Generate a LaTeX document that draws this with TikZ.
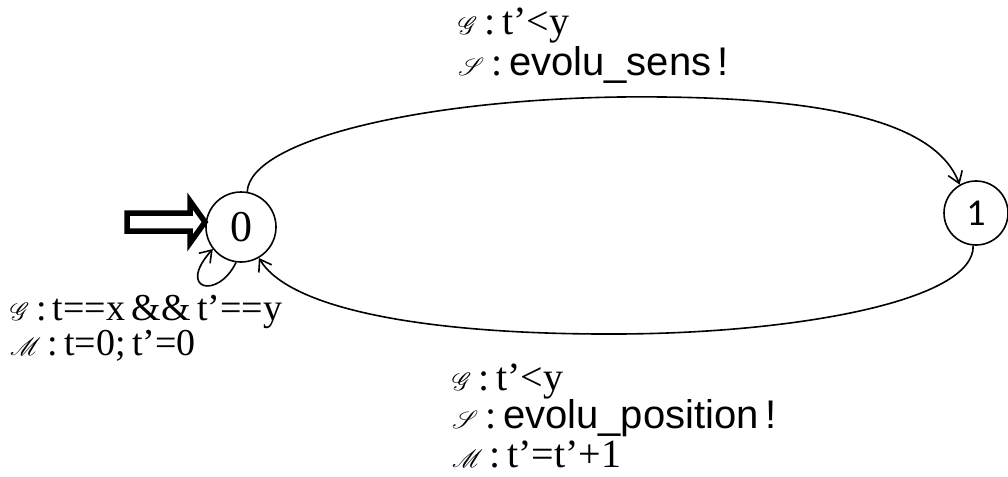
\documentclass[tikz,border=0pt]{standalone}
\usepackage{fontspec}
\usepackage{mathrsfs}
\setmainfont{Liberation Serif}
\newfontfamily\arialf{Liberation Sans}
\newfontfamily\calif{Carlito}
\usetikzlibrary{arrows.meta}
\newcommand{\scl}[1]{{\fontsize{26}{26}\selectfont$\mathscr{#1}$}}
\newcommand{\stackl}[2]{\vtop{\baselineskip=#1\lineskiplimit=-100pt\lineskip=0pt #2}}
\begin{document}
\begin{tikzpicture}[x=1pt,y=-1pt,
  state/.style={draw,circle,line width=1.6pt,minimum size=70pt,inner sep=0pt},
  conn/.style={line width=1.6pt,-{Straight Barb[length=11pt,width=15pt,line width=1.6pt]}},
  lbl/.style={anchor=base west,inner sep=0pt,font=\fontsize{40}{42}\selectfont},
  llbl/.style={anchor=base west,inner sep=0pt,font=\fontsize{38}{40}\selectfont}]
\useasboundingbox (0,0) rectangle (1008,476);
\node[state,font=\fontsize{44}{46}\selectfont] (s0) at (241,227) {0};
\node[state,minimum size=64pt,font=\calif\fontsize{38}{40}\selectfont] (s1) at (976,213) {1};
% initial block arrow
\coordinate (ia) at (127,222);
\draw[line width=5.5pt,fill=white,line join=miter]
  (ia) ++(0,-9) -- ++(63,0) -- ++(0,-12) -- ++(15,21) -- ++(-15,21) -- ++(0,-12) -- ++(-63,0) -- cycle;
% top edge
\draw[conn] (s0.80) .. controls (250,140) and (420,100) .. (620,97)
  .. controls (820,95) and (935,120) .. (s1.120);
% bottom edge
\draw[conn] (s1.265) .. controls (975,300) and (800,333) .. (620,334)
  .. controls (430,335) and (290,310) .. (s0.-60);
% self loop
\draw[conn] (s0.262) .. controls (218,300) and (176,290) .. (s0.218);
% labels
\node[lbl] (top) at (458,35) {\stackl{41pt}{\hbox{\scl{G}\,:\,t’<y}\hbox{\scl{S}\,:\,{\arialf evolu\_sens\,!}}}};
\node[llbl] (loop) at (10,320) {\stackl{35pt}{\hbox{\scl{G}\,:\,t==x\,\&\&\,t’==y}\hbox{\scl{M}\,:\,t=0;\,t’=0}}};
\node[lbl] (bot) at (452,390) {\stackl{38.5pt}{\hbox{\scl{G}\,:\,t’<y}\hbox{\scl{S}\,:\,{\arialf evolu\_position\,!}}\hbox{\scl{M}\,:\,t’=t’+1}}};
\end{tikzpicture}
\end{document}
